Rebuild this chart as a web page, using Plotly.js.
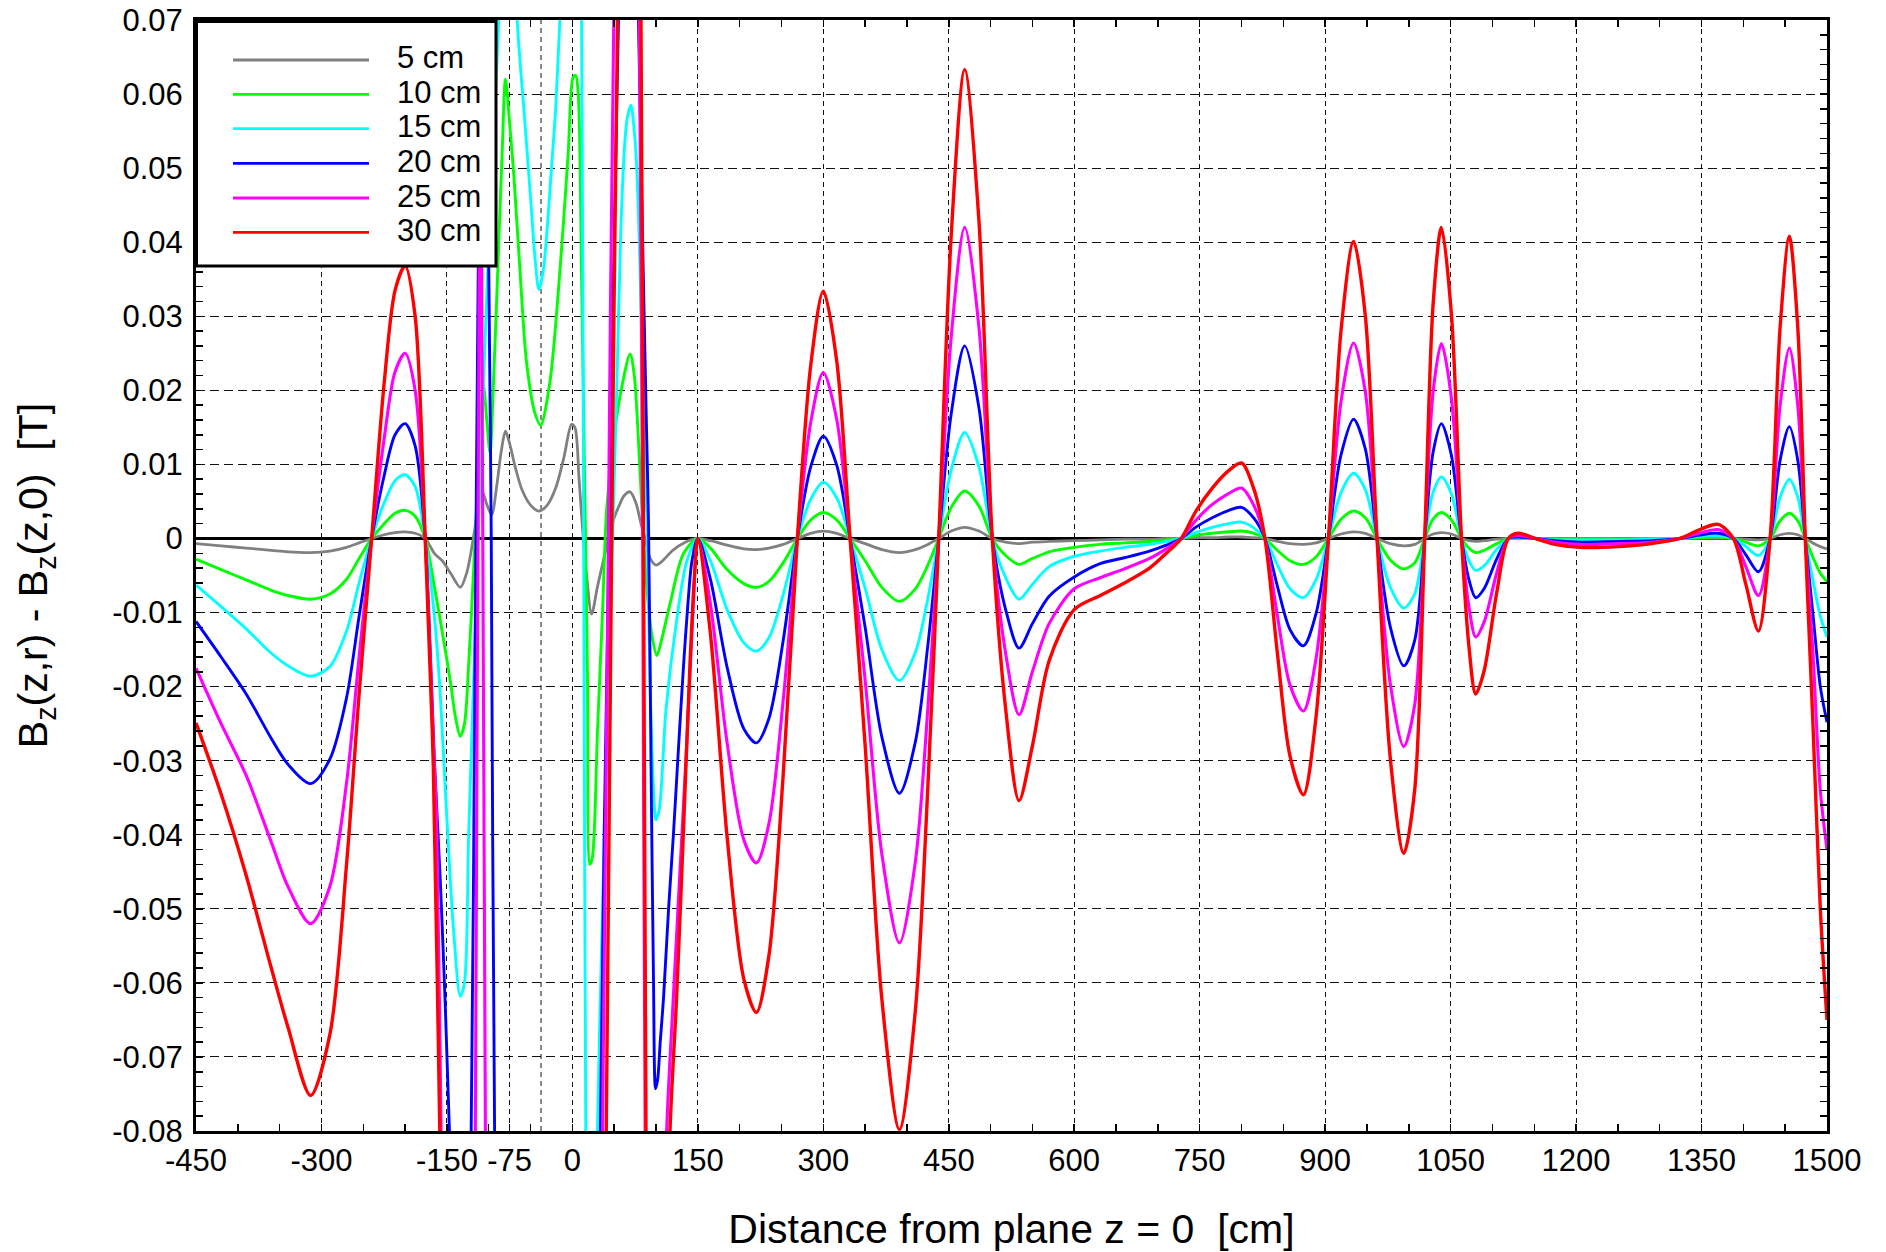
<!DOCTYPE html>
<html>
<head>
<meta charset="utf-8">
<script src="https://cdn.plot.ly/plotly-3.0.1.min.js"></script>
<style>html,body{margin:0;padding:0;background:#fff;}#chart{width:1886px;height:1252px;}</style>
</head>
<body>
<div id="chart"></div>
<script>
// ---------------- data ----------------
const seriesNames = ['5 cm', '10 cm', '15 cm', '20 cm', '25 cm', '30 cm'];

// shared sample positions (cm)
const zLeft = [-450, -420, -390, -360, -340, -313, -290, -270, -255, -240, -225, -212, -200, -188, -176];
const zRight = [150,165,185,205,220,235,252,269,285,300,316,332,350,370,391,410,425,438,453,469,486,502,518,534,550,570,600,631,660,690,710,728,745,765,785,800,815,828,843,858,874,889,904,919,934,948,962,978,994,1007,1019,1029,1039,1051,1063,1072,1080,1090,1105,1119,1131,1151,1175,1205,1250,1290,1324,1350,1370,1388,1403,1418,1432,1444,1455,1465,1474,1483,1492,1500];

// 5 cm
const bLeft5 = [-0.0007,-0.0010,-0.0013,-0.0016,-0.0018,-0.0019,-0.0017,-0.0012,-0.0006,0,0.0005,0.0008,0.0009,0.0007,0];
const zMid5 = [-165,-155,-145,-134,-126,-118.5,-113,-108.5,-102,-96.5,-90,-85,-80,-75,-68,-60,-50,-40,-30,-20,-10,-1,3,8,13,17,23,30,37,43,50,55,62,69,76,82,87,93,100,108,120,135];
const bMid5 = [-0.0020,-0.0031,-0.0048,-0.0066,-0.0045,0,0.0040,0.0066,0.0045,0.0032,0.0075,0.0118,0.0145,0.0128,0.0095,0.0065,0.0045,0.0037,0.0045,0.0068,0.0110,0.0154,0.0150,0.0080,0,-0.0050,-0.0102,-0.0065,-0.0030,0,0.0028,0.0042,0.0058,0.0063,0.0048,0.0020,0,-0.0027,-0.0036,-0.0030,-0.0016,-0.0005];
const bRight5 = [0,-0.0003,-0.0009,-0.0014,-0.0015,-0.0013,-0.0008,0,0.0007,0.0010,
  0.0007,0,-0.0007,-0.0015,-0.0019,-0.0015,-0.0008,0,0.0010,0.0015,
  0.0010,0,-0.0005,-0.0007,-0.0005,-0.0004,-0.0003,-0.0002,-0.0001,-0.0001,
  0,0,0.0001,0.0001,0.0002,0.0002,0.0001,0,-0.0004,-0.0007,
  -0.0008,-0.0006,0,0.0006,0.0009,0.0007,0,-0.0007,-0.0010,-0.0008,
  0,0.0006,0.0008,0.0006,0,-0.0003,-0.0004,-0.0003,-0.0001,0,
  0,0,0,0,0,0,0,0,0,0,
  -0.0001,-0.0002,0,0.0005,0.0007,0.0005,0,-0.0006,-0.0011,-0.0014];

// 10 cm
const bLeft10 = [-0.0028,-0.0042,-0.0056,-0.0070,-0.0077,-0.0082,-0.0075,-0.0055,-0.0027,0,0.0020,0.0034,0.0038,0.0030,0];
const zMid10 = [-165,-158,-146,-140,-134,-129,-124,-118,-113,-106.5,-102,-98.5,-94,-88,-84,-80,-75,-70,-62,-55,-45,-38,-27,-15,-5,1,4,7,11,15,18,21,24,30,36,41,50,60,69,74,80,85,90,95,101,107,117,133];
const bMid10 = [-0.0065,-0.0110,-0.0192,-0.0240,-0.0267,-0.0250,-0.0170,-0.0040,0.0080,0.0207,0.0155,0.0116,0.0220,0.0400,0.0520,0.0620,0.0560,0.0490,0.0350,0.0240,0.0170,0.0153,0.0210,0.0360,0.0520,0.0623,0.0625,0.0600,0.0350,0.0050,-0.0180,-0.0440,-0.0430,-0.0260,-0.0100,0.0040,0.0140,0.0210,0.0249,0.0220,0.0110,0,-0.0080,-0.0130,-0.0158,-0.0135,-0.0087,-0.0020];
const bRight10 = [0,-0.0013,-0.0042,-0.0061,-0.0066,-0.0058,-0.0033,0,0.0025,0.0035,
  0.0025,0,-0.0030,-0.0066,-0.0085,-0.0068,-0.0036,0,0.0042,0.0064,
  0.0044,0,-0.0023,-0.0035,-0.0027,-0.0018,-0.0012,-0.0008,-0.0006,-0.0004,
  -0.0002,0,0.0004,0.0007,0.0009,0.0010,0.0007,0,-0.0016,-0.0030,
  -0.0035,-0.0025,0,0.0026,0.0037,0.0028,0,-0.0029,-0.0041,-0.0033,
  0,0.0026,0.0035,0.0025,0,-0.0013,-0.0019,-0.0016,-0.0007,0,
  0,0,-0.0001,-0.0001,-0.0001,0,0,0.0001,0.0002,0,
  -0.0005,-0.0010,0,0.0024,0.0034,0.0024,0,-0.0025,-0.0047,-0.0058];

// 15 cm
const bLeft15 = [-0.0063,-0.0092,-0.0122,-0.0155,-0.0172,-0.0186,-0.0173,-0.0125,-0.0060,0,0.0048,0.0078,0.0086,0.0070,0];
const zMid15 = [-165,-158,-150,-142,-134,-129,-124,-114,-106,-98,-88,-80,-72,-66,-58,-50,-44,-40,-35,-30,-25,-20,-15,-5,3,8,11,13.5,16,20,25,30,36,42,48,53,58,63,66,70,74,77,81,86,89,93,97,100,104,112,124,137];
const bMid15 = [-0.0105,-0.0210,-0.0380,-0.0530,-0.0618,-0.0600,-0.0400,-0.0050,0.0220,0.0450,0.0700,0.0950,0.0950,0.0700,0.0580,0.0460,0.0370,0.0336,0.0360,0.0420,0.0500,0.0580,0.0700,0.0950,0.0950,0.0900,0.0700,0,-0.0800,-0.1200,-0.1200,-0.0800,-0.0500,-0.0250,0,0.0200,0.0420,0.0540,0.0570,0.0585,0.0550,0.0500,0.0360,0.0120,0.0030,-0.0200,-0.0340,-0.0380,-0.0365,-0.0230,-0.0116,-0.0030];
const bRight15 = [0,-0.0030,-0.0096,-0.0141,-0.0152,-0.0134,-0.0076,0,0.0053,0.0076,
  0.0055,0,-0.0067,-0.0150,-0.0192,-0.0154,-0.0081,0,0.0093,0.0143,
  0.0097,0,-0.0053,-0.0082,-0.0062,-0.0038,-0.0024,-0.0017,-0.0012,-0.0008,
  -0.0004,0,0.0008,0.0015,0.0020,0.0022,0.0014,0,-0.0036,-0.0068,
  -0.0080,-0.0056,0,0.0062,0.0088,0.0066,0,-0.0066,-0.0094,-0.0075,
  0,0.0062,0.0083,0.0060,0,-0.0030,-0.0043,-0.0037,-0.0015,0,
  0.0001,0,-0.0002,-0.0002,-0.0002,-0.0001,0,0.0003,0.0004,0,
  -0.0011,-0.0023,0,0.0056,0.0080,0.0056,0,-0.0055,-0.0105,-0.0133];

// 20 cm
const bLeft20 = [-0.0112,-0.0160,-0.0210,-0.0270,-0.0305,-0.0331,-0.0298,-0.0215,-0.0105,0,0.0085,0.0140,0.0155,0.0125,0];
const zMid20 = [-170,-165,-158,-152,-147,-140,-132,-126,-121,-116.7,-112.5,-108,-104,-100,-97,-93,-85,-60,-20,20,28,33.5,38,44,50,56,62,70,76,79,84,88,91,94,97,99.5,102,105,109,115,121,127,133,138,143];
const bMid20 = [-0.0150,-0.0300,-0.0460,-0.0630,-0.0800,-0.1000,-0.1100,-0.1000,-0.0800,-0.0200,0.0370,0.0800,0.0800,0.0370,0,-0.0800,-0.1300,-0.1600,-0.1600,-0.1400,-0.1100,-0.0800,-0.0400,0,0.0400,0.0750,0.1000,0.1000,0.0850,0.0700,0.0400,0.0180,0.0020,-0.0300,-0.0600,-0.0743,-0.0730,-0.0680,-0.0620,-0.0500,-0.0396,-0.0280,-0.0170,-0.0090,-0.0030];
const bRight20 = [0,-0.0055,-0.0174,-0.0257,-0.0276,-0.0243,-0.0138,0,0.0097,0.0138,
  0.0099,0,-0.0120,-0.0268,-0.0344,-0.0275,-0.0144,0,0.0169,0.0260,
  0.0177,0,-0.0096,-0.0148,-0.0115,-0.0078,-0.0052,-0.0034,-0.0026,-0.0017,
  -0.0009,0,0.0015,0.0028,0.0038,0.0042,0.0027,0,-0.0065,-0.0123,
  -0.0145,-0.0102,0,0.0113,0.0161,0.0121,0,-0.0120,-0.0172,-0.0138,
  0,0.0116,0.0155,0.0112,0,-0.0056,-0.0080,-0.0068,-0.0028,0,
  0.0002,0,-0.0003,-0.0005,-0.0004,-0.0003,0,0.0005,0.0007,0,
  -0.0022,-0.0045,0,0.0106,0.0151,0.0106,0,-0.0100,-0.0200,-0.0248];

// 25 cm
const bLeft25 = [-0.0175,-0.0250,-0.0320,-0.0410,-0.0470,-0.0520,-0.0470,-0.0330,-0.0160,0,0.0135,0.0225,0.0250,0.0200,0];
const zMid25 = [-170,-166,-162.3,-157,-150,-140,-130,-122,-116,-111.5,-110,-108.5,-104,-98,-90,-60,0,25,32,36,43,50,58,70,78,80,84,87,92,100,106,112.7,120.7,128.6,136.6,144.6];
const bMid25 = [-0.0160,-0.0280,-0.0380,-0.0800,-0.1300,-0.1800,-0.2000,-0.1700,-0.0800,0.0360,0.0500,0.0360,-0.0800,-0.1600,-0.2000,-0.2000,-0.2000,-0.1600,-0.1100,-0.0800,0,0.0750,0.1100,0.1200,0.0900,0.0700,0,-0.0800,-0.1300,-0.1500,-0.1200,-0.0800,-0.0620,-0.0450,-0.0280,-0.0088];
const bRight25 = [0,-0.0088,-0.0276,-0.0407,-0.0438,-0.0385,-0.0219,0,0.0157,0.0224,
  0.0161,0,-0.0191,-0.0426,-0.0546,-0.0437,-0.0229,0,0.0273,0.0420,
  0.0286,0,-0.0155,-0.0238,-0.0180,-0.0115,-0.0068,-0.0053,-0.0041,-0.0027,
  -0.0014,0,0.0024,0.0046,0.0061,0.0068,0.0044,0,-0.0105,-0.0198,
  -0.0233,-0.0163,0,0.0185,0.0264,0.0198,0,-0.0197,-0.0281,-0.0225,
  0,0.0197,0.0263,0.0189,0,-0.0093,-0.0133,-0.0113,-0.0047,0,
  0.0004,0,-0.0005,-0.0008,-0.0007,-0.0005,0,0.0008,0.0012,0,
  -0.0038,-0.0077,0,0.0180,0.0257,0.0180,0,-0.0150,-0.0340,-0.0420];

// 30 cm
const bLeft30 = [-0.0249,-0.0345,-0.0455,-0.0580,-0.0660,-0.0752,-0.0670,-0.0440,-0.0210,0,0.0210,0.0335,0.0368,0.0300,0];
const zMid30 = [-172,-166.3,-158.5,-150,-140,-100,-50,0,30,36,40.5,47,54,62,72,80,82,85,88,92,100,110,116.7,124.6,132.6,140.6,146];
const bMid30 = [-0.0120,-0.0306,-0.0800,-0.1300,-0.2000,-0.2500,-0.2500,-0.2500,-0.2000,-0.1200,-0.0800,0,0.0700,0.1100,0.1200,0.0900,0.0700,0,-0.0800,-0.1300,-0.1600,-0.1200,-0.0800,-0.0620,-0.0400,-0.0170,-0.0050];
const bRight30 = [0,-0.0128,-0.0403,-0.0595,-0.0640,-0.0563,-0.0320,0,0.0234,0.0334,
  0.0240,0,-0.0279,-0.0622,-0.0798,-0.0638,-0.0335,0,0.0411,0.0633,
  0.0430,0,-0.0230,-0.0354,-0.0280,-0.0165,-0.0096,-0.0077,-0.0060,-0.0040,
  -0.0020,0,0.0036,0.0068,0.0092,0.0102,0.0066,0,-0.0156,-0.0294,
  -0.0346,-0.0242,0,0.0281,0.0401,0.0301,0,-0.0298,-0.0425,-0.0340,
  0,0.0315,0.0420,0.0302,0,-0.0147,-0.0210,-0.0179,-0.0074,0,
  0.0007,0,-0.0008,-0.0012,-0.0011,-0.0007,0,0.0013,0.0019,0,
  -0.0062,-0.0125,0,0.0286,0.0408,0.0286,0,-0.0245,-0.0500,-0.0650];

// axis ticks
const xTickVals = [-450,-300,-150,-75,0,150,300,450,600,750,900,1050,1200,1350,1500];
const xTickText = ['-450','-300','-150','-75','0','150','300','450','600','750','900','1050','1200','1350','1500'];
const xExtraGrid = [-37.5];
const yTickVals = [0.07,0.06,0.05,0.04,0.03,0.02,0.01,0,-0.01,-0.02,-0.03,-0.04,-0.05,-0.06,-0.07,-0.08];
const yTickText = ['0.07','0.06','0.05','0.04','0.03','0.02','0.01','0','-0.01','-0.02','-0.03','-0.04','-0.05','-0.06','-0.07','-0.08'];

// ---------------- chart ----------------
const colors = ['#808080','#00ff00','#00ffff','#0000ff','#ff00ff','#ff0000'];
const widths = [2.8,2.9,2.9,2.9,3.1,3.4];
const parts = [
  [bLeft5, zMid5, bMid5, bRight5],
  [bLeft10, zMid10, bMid10, bRight10],
  [bLeft15, zMid15, bMid15, bRight15],
  [bLeft20, zMid20, bMid20, bRight20],
  [bLeft25, zMid25, bMid25, bRight25],
  [bLeft30, zMid30, bMid30, bRight30]
];
const traces = parts.map((p, i) => ({
  type: 'scatter', mode: 'lines', name: seriesNames[i],
  x: zLeft.concat(p[1], zRight),
  y: p[0].concat(p[2], p[3]),
  line: {color: colors[i], width: widths[i], shape: 'spline', smoothing: 0.85},
  showlegend: false
}));

const FONT = 'Liberation Sans, Arial, Helvetica, sans-serif';
// legend box drawn in paper coordinates
const PL = 196, PT = 20, PW = 1631, PH = 1111;
const px = v => (v - PL) / PW;
const py = v => (PT + PH - v) / PH;
const shapes = xExtraGrid.map(v => ({
  type: 'line', xref: 'x', yref: 'paper', layer: 'below',
  x0: v, x1: v, y0: 0, y1: 1,
  line: {color: '#111', width: 1, dash: '5px,4px'}
}));
shapes.push({
  type: 'rect', xref: 'paper', yref: 'paper', layer: 'above',
  x0: px(196.5), x1: px(496), y0: py(266), y1: py(21.5),
  fillcolor: 'white', line: {color: 'black', width: 3}
});
const annotations = [];
const rowY = [60, 94.3, 128.7, 163.3, 198, 232.3];
seriesNames.forEach((n, i) => {
  shapes.push({type: 'line', xref: 'paper', yref: 'paper', layer: 'above',
    x0: px(233), x1: px(369), y0: py(rowY[i]), y1: py(rowY[i]),
    line: {color: colors[i], width: 2.8}});
  annotations.push({xref: 'paper', yref: 'paper', x: px(395), y: py(rowY[i] - 2),
    xanchor: 'left', yanchor: 'middle', showarrow: false, text: n,
    font: {family: FONT, size: 31, color: 'black'}});
});

const layout = {
  width: 1886, height: 1252,
  margin: {l: PL, r: 1886 - PL - PW, t: PT, b: 1252 - PT - PH, pad: 0},
  paper_bgcolor: 'white', plot_bgcolor: 'white',
  showlegend: false,
  font: {family: FONT, size: 31, color: 'black'},
  xaxis: {
    range: [-450, 1500], tickmode: 'array', tickvals: xTickVals, ticktext: xTickText,
    ticks: 'inside', ticklen: 7, tickwidth: 1.5, tickcolor: 'black',
    showline: true, linewidth: 3, linecolor: 'black', mirror: 'ticks',
    showgrid: true, gridcolor: '#111', gridwidth: 1, griddash: '5px,4px',
    zeroline: false,
    minor: {tickmode: 'linear', tick0: 0, dtick: 50, ticks: 'inside', ticklen: 7, tickwidth: 1.5, tickcolor: 'black', showgrid: false},
    tickfont: {family: FONT, size: 31, color: 'black'},
    title: {text: 'Distance from plane z = 0\u00a0\u00a0[cm]', font: {family: FONT, size: 41, color: 'black'}, standoff: 41},
    automargin: false
  },
  yaxis: {
    range: [-0.08, 0.07], tickmode: 'array', tickvals: yTickVals, ticktext: yTickText,
    ticks: 'inside', ticklen: 7, tickwidth: 1.5, tickcolor: 'black',
    showline: true, linewidth: 3, linecolor: 'black', mirror: 'ticks',
    showgrid: true, gridcolor: '#111', gridwidth: 1, griddash: '9px,5px',
    zeroline: true, zerolinecolor: 'black', zerolinewidth: 2.5,
    minor: {tickmode: 'linear', tick0: 0, dtick: 0.002, ticks: 'inside', ticklen: 7, tickwidth: 1.5, tickcolor: 'black', showgrid: false},
    tickfont: {family: FONT, size: 31, color: 'black'},
    ticklabelstandoff: 4,
    title: {text: 'B<sub>z</sub>(z,r) - B<sub>z</sub>(z,0)\u00a0\u00a0[T]', font: {family: FONT, size: 41, color: 'black'}, standoff: 52},
    automargin: false
  },
  shapes: shapes,
  annotations: annotations
};

Plotly.newPlot('chart', traces, layout, {displayModeBar: false, staticPlot: true});
</script>
</body>
</html>
